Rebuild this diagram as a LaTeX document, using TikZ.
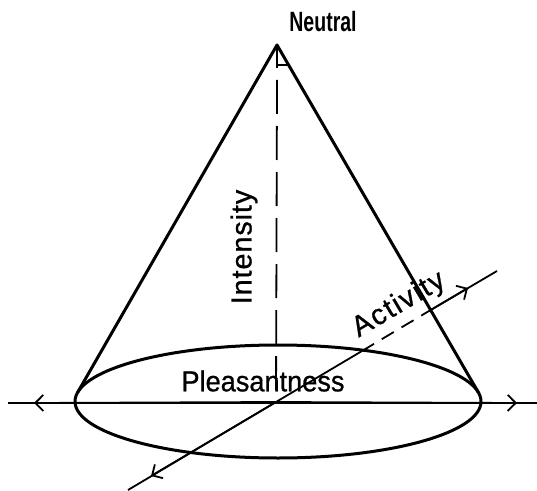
\documentclass[tikz,border=0pt]{standalone}
\usepackage{fontspec}
\setmainfont{Liberation Sans}[FakeBold=0.8]
\newfontfamily\neutralfont{Liberation Sans Bold}
\usetikzlibrary{arrows.meta}
\begin{document}
\begin{tikzpicture}[x=1bp,y=-1bp,
  cone/.style={line width=3bp, line join=round},
  axis/.style={line width=1.8bp},
  tip/.style={axis,-{Straight Barb[length=8bp,width=16bp,line width=1.8bp]}},
  lbl/.style={inner sep=0pt, font=\fontsize{29}{29}\selectfont}]
\useasboundingbox (0,0) rectangle (537,491);
% key points
\coordinate (apex) at (277,45);
\coordinate (O) at (276,402);
\coordinate (TL) at (77.6,392.5);
\coordinate (TR) at (478.4,392.5);
% ellipse (base)
\draw[cone] (278,401.5) ellipse [x radius=203, y radius=56.5];
% cone sides
\draw[cone] (TL) -- (apex) -- (TR);
% intensity axis
\coordinate (I1) at (277,68);
\draw[axis] (apex) -- (I1);
\draw[axis] (277,65) -- (288,65);
\draw[axis, dash pattern=on 34bp off 12bp] (277,80) -- (O);
% pleasantness axis
\coordinate (HL) at (8,403);
\coordinate (HR) at (537,403);
\coordinate (HLt) at (34,403);
\coordinate (HRt) at (517,403);
\draw[axis] (HL) -- (HR);
\draw[tip] (O) -- (HLt);
\draw[tip] (O) -- (HRt);
% activity axis
\coordinate (AL) at (128,490);
\coordinate (E1) at (362,351);
\coordinate (E2) at (429,311);
\coordinate (AU) at (497,271);
\coordinate (ALt) at (151,476);
\coordinate (AUt) at (468,288);
\draw[axis] (AL) -- (O) -- (E1);
\draw[axis, dash pattern=on 14bp off 9bp] (E1) -- (E2);
\draw[axis] (E2) -- (AU);
\draw[tip] (O) -- (ALt);
\draw[tip] (E2) -- (AUt);
% labels
\node[lbl, font=\fontsize{28}{28}\neutralfont] (neutral) at (323,22) {\scalebox{0.7}[1]{Neutral}};
\node[lbl, rotate=90] (intensity) at (244,247) {\addfontfeature{LetterSpace=3}Intensity};
\node[lbl, rotate=30.7] (activity) at (399,305) {\addfontfeature{LetterSpace=5.5}Activity};
\node[lbl] (pleas) at (263,381) {\scalebox{0.94}[1]{Pleasantness}};
\end{tikzpicture}
\end{document}
